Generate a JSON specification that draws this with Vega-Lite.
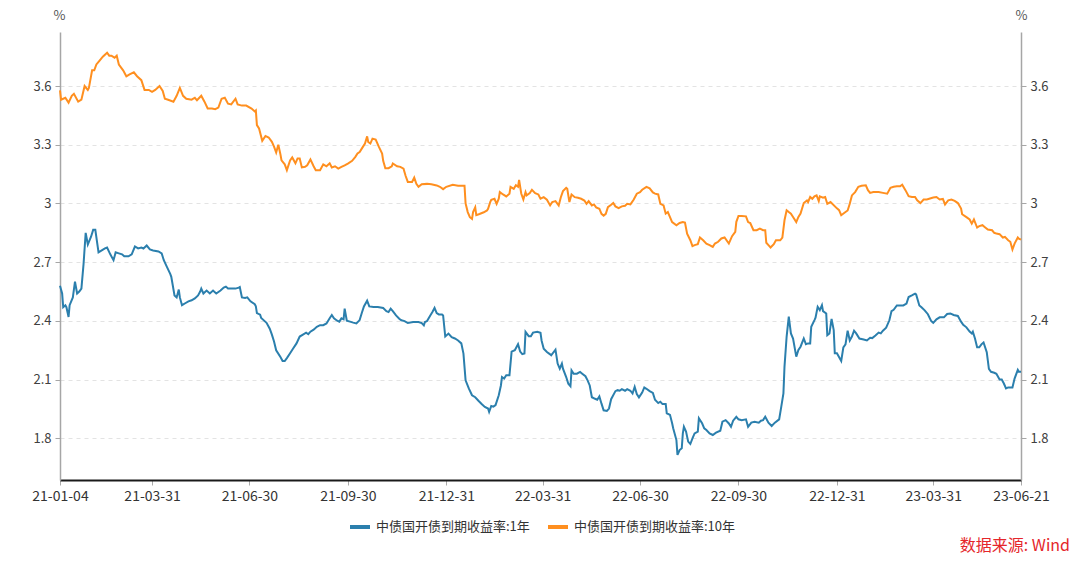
{
  "$schema": "https://vega.github.io/schema/vega-lite/v6.json",
  "autosize": "none",
  "width": 961,
  "height": 448,
  "padding": {"left": 60, "top": 32, "right": 59, "bottom": 83},
  "background": "white",
  "title": {
    "text": "数据来源: Wind",
    "orient": "bottom",
    "anchor": "end",
    "frame": "group",
    "dx": 49,
    "offset": 3,
    "color": "#e5262b",
    "fontSize": 16,
    "fontWeight": "normal",
    "font": "Noto Sans CJK SC"
  },
  "config": {
    "view": {"stroke": null},
    "font": "Noto Sans CJK SC",
    "axis": {"labelFont": "Noto Sans CJK SC", "titleFont": "Noto Sans CJK SC"},
    "legend": {"labelFont": "Noto Sans CJK SC"}
  },
  "data": {
    "values": [
      {"d":"2021-01-04","s":"1年","v":2.58},{"d":"2021-01-06","s":"1年","v":2.54},{"d":"2021-01-07","s":"1年","v":2.47},{"d":"2021-01-09","s":"1年","v":2.48},{"d":"2021-01-10","s":"1年","v":2.47},{"d":"2021-01-12","s":"1年","v":2.42},{"d":"2021-01-13","s":"1年","v":2.48},{"d":"2021-01-16","s":"1年","v":2.52},{"d":"2021-01-18","s":"1年","v":2.60},{"d":"2021-01-20","s":"1年","v":2.54},{"d":"2021-01-22","s":"1年","v":2.55},{"d":"2021-01-24","s":"1年","v":2.565},{"d":"2021-01-26","s":"1年","v":2.69},{"d":"2021-01-28","s":"1年","v":2.85},{"d":"2021-01-30","s":"1年","v":2.79},{"d":"2021-02-02","s":"1年","v":2.83},{"d":"2021-02-04","s":"1年","v":2.865},{"d":"2021-02-06","s":"1年","v":2.865},{"d":"2021-02-09","s":"1年","v":2.75},{"d":"2021-02-12","s":"1年","v":2.76},{"d":"2021-02-15","s":"1年","v":2.77},{"d":"2021-02-17","s":"1年","v":2.775},{"d":"2021-02-20","s":"1年","v":2.74},{"d":"2021-02-23","s":"1年","v":2.71},{"d":"2021-02-25","s":"1年","v":2.75},{"d":"2021-02-28","s":"1年","v":2.745},{"d":"2021-03-03","s":"1年","v":2.74},{"d":"2021-03-05","s":"1年","v":2.73},{"d":"2021-03-09","s":"1年","v":2.73},{"d":"2021-03-12","s":"1年","v":2.74},{"d":"2021-03-15","s":"1年","v":2.78},{"d":"2021-03-18","s":"1年","v":2.77},{"d":"2021-03-21","s":"1年","v":2.775},{"d":"2021-03-23","s":"1年","v":2.77},{"d":"2021-03-26","s":"1年","v":2.785},{"d":"2021-03-29","s":"1年","v":2.765},{"d":"2021-04-01","s":"1年","v":2.76},{"d":"2021-04-06","s":"1年","v":2.755},{"d":"2021-04-09","s":"1年","v":2.745},{"d":"2021-04-11","s":"1年","v":2.71},{"d":"2021-04-14","s":"1年","v":2.675},{"d":"2021-04-17","s":"1年","v":2.64},{"d":"2021-04-18","s":"1年","v":2.625},{"d":"2021-04-21","s":"1年","v":2.53},{"d":"2021-04-23","s":"1年","v":2.52},{"d":"2021-04-25","s":"1年","v":2.56},{"d":"2021-04-26","s":"1年","v":2.52},{"d":"2021-04-28","s":"1年","v":2.48},{"d":"2021-05-01","s":"1年","v":2.49},{"d":"2021-05-04","s":"1年","v":2.50},{"d":"2021-05-07","s":"1年","v":2.505},{"d":"2021-05-10","s":"1年","v":2.515},{"d":"2021-05-13","s":"1年","v":2.53},{"d":"2021-05-15","s":"1年","v":2.55},{"d":"2021-05-16","s":"1年","v":2.565},{"d":"2021-05-18","s":"1年","v":2.54},{"d":"2021-05-21","s":"1年","v":2.555},{"d":"2021-05-24","s":"1年","v":2.54},{"d":"2021-05-27","s":"1年","v":2.555},{"d":"2021-05-30","s":"1年","v":2.54},{"d":"2021-06-03","s":"1年","v":2.555},{"d":"2021-06-06","s":"1年","v":2.57},{"d":"2021-06-08","s":"1年","v":2.575},{"d":"2021-06-10","s":"1年","v":2.565},{"d":"2021-06-13","s":"1年","v":2.565},{"d":"2021-06-17","s":"1年","v":2.565},{"d":"2021-06-20","s":"1年","v":2.57},{"d":"2021-06-21","s":"1年","v":2.573},{"d":"2021-06-23","s":"1年","v":2.52},{"d":"2021-06-26","s":"1年","v":2.517},{"d":"2021-06-28","s":"1年","v":2.52},{"d":"2021-07-01","s":"1年","v":2.50},{"d":"2021-07-05","s":"1年","v":2.485},{"d":"2021-07-06","s":"1年","v":2.475},{"d":"2021-07-07","s":"1年","v":2.44},{"d":"2021-07-10","s":"1年","v":2.432},{"d":"2021-07-11","s":"1年","v":2.415},{"d":"2021-07-14","s":"1年","v":2.40},{"d":"2021-07-16","s":"1年","v":2.39},{"d":"2021-07-19","s":"1年","v":2.36},{"d":"2021-07-21","s":"1年","v":2.33},{"d":"2021-07-23","s":"1年","v":2.295},{"d":"2021-07-25","s":"1年","v":2.25},{"d":"2021-07-29","s":"1年","v":2.215},{"d":"2021-07-31","s":"1年","v":2.195},{"d":"2021-08-02","s":"1年","v":2.195},{"d":"2021-08-04","s":"1年","v":2.21},{"d":"2021-08-07","s":"1年","v":2.235},{"d":"2021-08-10","s":"1年","v":2.26},{"d":"2021-08-13","s":"1年","v":2.285},{"d":"2021-08-16","s":"1年","v":2.32},{"d":"2021-08-19","s":"1年","v":2.33},{"d":"2021-08-22","s":"1年","v":2.34},{"d":"2021-08-24","s":"1年","v":2.332},{"d":"2021-08-26","s":"1年","v":2.345},{"d":"2021-08-29","s":"1年","v":2.355},{"d":"2021-09-01","s":"1年","v":2.37},{"d":"2021-09-04","s":"1年","v":2.378},{"d":"2021-09-07","s":"1年","v":2.378},{"d":"2021-09-10","s":"1年","v":2.387},{"d":"2021-09-13","s":"1年","v":2.413},{"d":"2021-09-15","s":"1年","v":2.43},{"d":"2021-09-17","s":"1年","v":2.413},{"d":"2021-09-20","s":"1年","v":2.401},{"d":"2021-09-22","s":"1年","v":2.396},{"d":"2021-09-24","s":"1年","v":2.413},{"d":"2021-09-26","s":"1年","v":2.408},{"d":"2021-09-27","s":"1年","v":2.463},{"d":"2021-09-29","s":"1年","v":2.401},{"d":"2021-10-02","s":"1年","v":2.396},{"d":"2021-10-05","s":"1年","v":2.391},{"d":"2021-10-08","s":"1年","v":2.387},{"d":"2021-10-11","s":"1年","v":2.404},{"d":"2021-10-13","s":"1年","v":2.44},{"d":"2021-10-15","s":"1年","v":2.474},{"d":"2021-10-18","s":"1年","v":2.503},{"d":"2021-10-20","s":"1年","v":2.474},{"d":"2021-10-24","s":"1年","v":2.471},{"d":"2021-10-28","s":"1年","v":2.471},{"d":"2021-11-02","s":"1年","v":2.466},{"d":"2021-11-05","s":"1年","v":2.45},{"d":"2021-11-07","s":"1年","v":2.445},{"d":"2021-11-09","s":"1年","v":2.462},{"d":"2021-11-11","s":"1年","v":2.45},{"d":"2021-11-14","s":"1年","v":2.428},{"d":"2021-11-17","s":"1年","v":2.411},{"d":"2021-11-19","s":"1年","v":2.403},{"d":"2021-11-22","s":"1年","v":2.399},{"d":"2021-11-25","s":"1年","v":2.389},{"d":"2021-11-30","s":"1年","v":2.394},{"d":"2021-12-05","s":"1年","v":2.394},{"d":"2021-12-08","s":"1年","v":2.389},{"d":"2021-12-10","s":"1年","v":2.377},{"d":"2021-12-11","s":"1年","v":2.394},{"d":"2021-12-13","s":"1年","v":2.399},{"d":"2021-12-16","s":"1年","v":2.428},{"d":"2021-12-18","s":"1年","v":2.445},{"d":"2021-12-20","s":"1年","v":2.466},{"d":"2021-12-22","s":"1年","v":2.44},{"d":"2021-12-24","s":"1年","v":2.433},{"d":"2021-12-27","s":"1年","v":2.433},{"d":"2021-12-28","s":"1年","v":2.428},{"d":"2021-12-30","s":"1年","v":2.32},{"d":"2022-01-02","s":"1年","v":2.335},{"d":"2022-01-05","s":"1年","v":2.317},{"d":"2022-01-08","s":"1年","v":2.31},{"d":"2022-01-11","s":"1年","v":2.30},{"d":"2022-01-14","s":"1年","v":2.285},{"d":"2022-01-16","s":"1年","v":2.233},{"d":"2022-01-18","s":"1年","v":2.096},{"d":"2022-01-21","s":"1年","v":2.055},{"d":"2022-01-24","s":"1年","v":2.02},{"d":"2022-01-27","s":"1年","v":2.01},{"d":"2022-01-30","s":"1年","v":1.992},{"d":"2022-02-02","s":"1年","v":1.975},{"d":"2022-02-05","s":"1年","v":1.96},{"d":"2022-02-08","s":"1年","v":1.952},{"d":"2022-02-09","s":"1年","v":1.935},{"d":"2022-02-11","s":"1年","v":1.965},{"d":"2022-02-13","s":"1年","v":1.962},{"d":"2022-02-15","s":"1年","v":1.97},{"d":"2022-02-18","s":"1年","v":2.02},{"d":"2022-02-20","s":"1年","v":2.07},{"d":"2022-02-21","s":"1年","v":2.113},{"d":"2022-02-23","s":"1年","v":2.105},{"d":"2022-02-25","s":"1年","v":2.122},{"d":"2022-02-28","s":"1年","v":2.122},{"d":"2022-03-02","s":"1年","v":2.243},{"d":"2022-03-05","s":"1年","v":2.25},{"d":"2022-03-08","s":"1年","v":2.281},{"d":"2022-03-10","s":"1年","v":2.243},{"d":"2022-03-12","s":"1年","v":2.23},{"d":"2022-03-14","s":"1年","v":2.233},{"d":"2022-03-15","s":"1年","v":2.344},{"d":"2022-03-18","s":"1年","v":2.322},{"d":"2022-03-20","s":"1年","v":2.322},{"d":"2022-03-22","s":"1年","v":2.34},{"d":"2022-03-26","s":"1年","v":2.344},{"d":"2022-03-29","s":"1年","v":2.339},{"d":"2022-03-30","s":"1年","v":2.30},{"d":"2022-04-01","s":"1年","v":2.258},{"d":"2022-04-04","s":"1年","v":2.241},{"d":"2022-04-07","s":"1年","v":2.229},{"d":"2022-04-08","s":"1年","v":2.224},{"d":"2022-04-12","s":"1年","v":2.253},{"d":"2022-04-14","s":"1年","v":2.182},{"d":"2022-04-16","s":"1年","v":2.156},{"d":"2022-04-18","s":"1年","v":2.182},{"d":"2022-04-19","s":"1年","v":2.156},{"d":"2022-04-22","s":"1年","v":2.113},{"d":"2022-04-24","s":"1年","v":2.079},{"d":"2022-04-26","s":"1年","v":2.066},{"d":"2022-04-27","s":"1年","v":2.147},{"d":"2022-04-29","s":"1年","v":2.13},{"d":"2022-05-02","s":"1年","v":2.13},{"d":"2022-05-05","s":"1年","v":2.139},{"d":"2022-05-07","s":"1年","v":2.13},{"d":"2022-05-10","s":"1年","v":2.117},{"d":"2022-05-12","s":"1年","v":2.096},{"d":"2022-05-14","s":"1年","v":2.07},{"d":"2022-05-16","s":"1年","v":2.01},{"d":"2022-05-19","s":"1年","v":2.002},{"d":"2022-05-21","s":"1年","v":1.997},{"d":"2022-05-23","s":"1年","v":2.014},{"d":"2022-05-25","s":"1年","v":1.977},{"d":"2022-05-27","s":"1年","v":1.943},{"d":"2022-05-30","s":"1年","v":1.94},{"d":"2022-06-01","s":"1年","v":1.952},{"d":"2022-06-03","s":"1年","v":2.0},{"d":"2022-06-07","s":"1年","v":2.041},{"d":"2022-06-09","s":"1年","v":2.046},{"d":"2022-06-11","s":"1年","v":2.043},{"d":"2022-06-13","s":"1年","v":2.051},{"d":"2022-06-16","s":"1年","v":2.043},{"d":"2022-06-18","s":"1年","v":2.051},{"d":"2022-06-21","s":"1年","v":2.043},{"d":"2022-06-23","s":"1年","v":2.029},{"d":"2022-06-25","s":"1年","v":2.063},{"d":"2022-06-27","s":"1年","v":2.026},{"d":"2022-06-29","s":"1年","v":2.009},{"d":"2022-07-02","s":"1年","v":2.034},{"d":"2022-07-04","s":"1年","v":2.06},{"d":"2022-07-06","s":"1年","v":2.053},{"d":"2022-07-09","s":"1年","v":2.041},{"d":"2022-07-12","s":"1年","v":2.032},{"d":"2022-07-14","s":"1年","v":1.997},{"d":"2022-07-17","s":"1年","v":1.98},{"d":"2022-07-19","s":"1年","v":1.987},{"d":"2022-07-21","s":"1年","v":1.975},{"d":"2022-07-24","s":"1年","v":1.975},{"d":"2022-07-25","s":"1年","v":1.928},{"d":"2022-07-28","s":"1年","v":1.92},{"d":"2022-07-30","s":"1年","v":1.877},{"d":"2022-07-31","s":"1年","v":1.851},{"d":"2022-08-03","s":"1年","v":1.791},{"d":"2022-08-04","s":"1年","v":1.715},{"d":"2022-08-06","s":"1年","v":1.74},{"d":"2022-08-08","s":"1年","v":1.749},{"d":"2022-08-09","s":"1年","v":1.825},{"d":"2022-08-10","s":"1年","v":1.859},{"d":"2022-08-12","s":"1年","v":1.834},{"d":"2022-08-14","s":"1年","v":1.783},{"d":"2022-08-16","s":"1年","v":1.771},{"d":"2022-08-18","s":"1年","v":1.80},{"d":"2022-08-20","s":"1年","v":1.825},{"d":"2022-08-23","s":"1年","v":1.834},{"d":"2022-08-24","s":"1年","v":1.902},{"d":"2022-08-27","s":"1年","v":1.877},{"d":"2022-08-29","s":"1年","v":1.851},{"d":"2022-08-31","s":"1年","v":1.842},{"d":"2022-09-03","s":"1年","v":1.825},{"d":"2022-09-06","s":"1年","v":1.817},{"d":"2022-09-09","s":"1年","v":1.829},{"d":"2022-09-13","s":"1年","v":1.839},{"d":"2022-09-15","s":"1年","v":1.885},{"d":"2022-09-18","s":"1年","v":1.893},{"d":"2022-09-21","s":"1年","v":1.876},{"d":"2022-09-23","s":"1年","v":1.859},{"d":"2022-09-25","s":"1年","v":1.89},{"d":"2022-09-28","s":"1年","v":1.91},{"d":"2022-09-30","s":"1年","v":1.897},{"d":"2022-10-03","s":"1年","v":1.893},{"d":"2022-10-07","s":"1年","v":1.897},{"d":"2022-10-09","s":"1年","v":1.859},{"d":"2022-10-12","s":"1年","v":1.88},{"d":"2022-10-15","s":"1年","v":1.885},{"d":"2022-10-19","s":"1年","v":1.88},{"d":"2022-10-21","s":"1年","v":1.89},{"d":"2022-10-23","s":"1年","v":1.893},{"d":"2022-10-25","s":"1年","v":1.91},{"d":"2022-10-28","s":"1年","v":1.88},{"d":"2022-10-31","s":"1年","v":1.863},{"d":"2022-11-03","s":"1年","v":1.88},{"d":"2022-11-07","s":"1年","v":1.897},{"d":"2022-11-09","s":"1年","v":1.962},{"d":"2022-11-11","s":"1年","v":2.03},{"d":"2022-11-12","s":"1年","v":2.166},{"d":"2022-11-14","s":"1年","v":2.32},{"d":"2022-11-16","s":"1年","v":2.422},{"d":"2022-11-18","s":"1年","v":2.336},{"d":"2022-11-20","s":"1年","v":2.31},{"d":"2022-11-23","s":"1年","v":2.217},{"d":"2022-11-25","s":"1年","v":2.251},{"d":"2022-11-27","s":"1年","v":2.268},{"d":"2022-11-30","s":"1年","v":2.31},{"d":"2022-12-02","s":"1年","v":2.281},{"d":"2022-12-04","s":"1年","v":2.285},{"d":"2022-12-06","s":"1年","v":2.285},{"d":"2022-12-07","s":"1年","v":2.37},{"d":"2022-12-10","s":"1年","v":2.404},{"d":"2022-12-11","s":"1年","v":2.416},{"d":"2022-12-13","s":"1年","v":2.472},{"d":"2022-12-15","s":"1年","v":2.455},{"d":"2022-12-17","s":"1年","v":2.48},{"d":"2022-12-18","s":"1年","v":2.45},{"d":"2022-12-21","s":"1年","v":2.438},{"d":"2022-12-22","s":"1年","v":2.327},{"d":"2022-12-24","s":"1年","v":2.336},{"d":"2022-12-26","s":"1年","v":2.41},{"d":"2022-12-28","s":"1年","v":2.353},{"d":"2022-12-29","s":"1年","v":2.234},{"d":"2022-12-31","s":"1年","v":2.234},{"d":"2023-01-04","s":"1年","v":2.195},{"d":"2023-01-06","s":"1年","v":2.265},{"d":"2023-01-08","s":"1年","v":2.28},{"d":"2023-01-10","s":"1年","v":2.35},{"d":"2023-01-12","s":"1年","v":2.30},{"d":"2023-01-14","s":"1年","v":2.32},{"d":"2023-01-16","s":"1年","v":2.35},{"d":"2023-01-18","s":"1年","v":2.336},{"d":"2023-01-21","s":"1年","v":2.31},{"d":"2023-01-25","s":"1年","v":2.305},{"d":"2023-01-28","s":"1年","v":2.30},{"d":"2023-01-31","s":"1年","v":2.314},{"d":"2023-02-02","s":"1年","v":2.312},{"d":"2023-02-05","s":"1年","v":2.325},{"d":"2023-02-08","s":"1年","v":2.34},{"d":"2023-02-10","s":"1年","v":2.336},{"d":"2023-02-12","s":"1年","v":2.35},{"d":"2023-02-15","s":"1年","v":2.365},{"d":"2023-02-18","s":"1年","v":2.403},{"d":"2023-02-20","s":"1年","v":2.45},{"d":"2023-02-22","s":"1年","v":2.457},{"d":"2023-02-25","s":"1年","v":2.479},{"d":"2023-02-28","s":"1年","v":2.479},{"d":"2023-03-03","s":"1年","v":2.479},{"d":"2023-03-06","s":"1年","v":2.488},{"d":"2023-03-08","s":"1年","v":2.522},{"d":"2023-03-11","s":"1年","v":2.53},{"d":"2023-03-14","s":"1年","v":2.539},{"d":"2023-03-15","s":"1年","v":2.535},{"d":"2023-03-18","s":"1年","v":2.479},{"d":"2023-03-20","s":"1年","v":2.47},{"d":"2023-03-23","s":"1年","v":2.454},{"d":"2023-03-26","s":"1年","v":2.434},{"d":"2023-03-29","s":"1年","v":2.40},{"d":"2023-03-31","s":"1年","v":2.39},{"d":"2023-04-03","s":"1年","v":2.408},{"d":"2023-04-06","s":"1年","v":2.418},{"d":"2023-04-10","s":"1年","v":2.418},{"d":"2023-04-13","s":"1年","v":2.435},{"d":"2023-04-16","s":"1年","v":2.438},{"d":"2023-04-19","s":"1年","v":2.43},{"d":"2023-04-23","s":"1年","v":2.425},{"d":"2023-04-26","s":"1年","v":2.396},{"d":"2023-04-28","s":"1年","v":2.38},{"d":"2023-05-01","s":"1年","v":2.367},{"d":"2023-05-04","s":"1年","v":2.345},{"d":"2023-05-06","s":"1年","v":2.336},{"d":"2023-05-07","s":"1年","v":2.345},{"d":"2023-05-09","s":"1年","v":2.31},{"d":"2023-05-11","s":"1年","v":2.265},{"d":"2023-05-13","s":"1年","v":2.265},{"d":"2023-05-15","s":"1年","v":2.28},{"d":"2023-05-17","s":"1年","v":2.29},{"d":"2023-05-20","s":"1年","v":2.24},{"d":"2023-05-22","s":"1年","v":2.155},{"d":"2023-05-24","s":"1年","v":2.14},{"d":"2023-05-27","s":"1年","v":2.135},{"d":"2023-05-29","s":"1年","v":2.13},{"d":"2023-06-01","s":"1年","v":2.10},{"d":"2023-06-03","s":"1年","v":2.10},{"d":"2023-06-05","s":"1年","v":2.08},{"d":"2023-06-07","s":"1年","v":2.055},{"d":"2023-06-09","s":"1年","v":2.06},{"d":"2023-06-13","s":"1年","v":2.06},{"d":"2023-06-15","s":"1年","v":2.105},{"d":"2023-06-18","s":"1年","v":2.15},{"d":"2023-06-19","s":"1年","v":2.14},{"d":"2023-06-21","s":"1年","v":2.14},
      {"d":"2021-01-04","s":"10年","v":3.578},{"d":"2021-01-05","s":"10年","v":3.53},{"d":"2021-01-09","s":"10年","v":3.54},{"d":"2021-01-12","s":"10年","v":3.515},{"d":"2021-01-15","s":"10年","v":3.55},{"d":"2021-01-17","s":"10年","v":3.56},{"d":"2021-01-21","s":"10年","v":3.52},{"d":"2021-01-24","s":"10年","v":3.53},{"d":"2021-01-27","s":"10年","v":3.60},{"d":"2021-01-30","s":"10年","v":3.58},{"d":"2021-01-31","s":"10年","v":3.59},{"d":"2021-02-03","s":"10年","v":3.68},{"d":"2021-02-05","s":"10年","v":3.68},{"d":"2021-02-07","s":"10年","v":3.71},{"d":"2021-02-10","s":"10年","v":3.73},{"d":"2021-02-13","s":"10年","v":3.75},{"d":"2021-02-17","s":"10年","v":3.77},{"d":"2021-02-19","s":"10年","v":3.755},{"d":"2021-02-21","s":"10年","v":3.755},{"d":"2021-02-24","s":"10年","v":3.745},{"d":"2021-02-26","s":"10年","v":3.755},{"d":"2021-02-28","s":"10年","v":3.71},{"d":"2021-03-04","s":"10年","v":3.68},{"d":"2021-03-07","s":"10年","v":3.65},{"d":"2021-03-10","s":"10年","v":3.66},{"d":"2021-03-14","s":"10年","v":3.67},{"d":"2021-03-17","s":"10年","v":3.65},{"d":"2021-03-21","s":"10年","v":3.63},{"d":"2021-03-24","s":"10年","v":3.58},{"d":"2021-03-28","s":"10年","v":3.58},{"d":"2021-03-31","s":"10年","v":3.57},{"d":"2021-04-03","s":"10年","v":3.58},{"d":"2021-04-07","s":"10年","v":3.60},{"d":"2021-04-10","s":"10年","v":3.575},{"d":"2021-04-12","s":"10年","v":3.535},{"d":"2021-04-15","s":"10年","v":3.53},{"d":"2021-04-20","s":"10年","v":3.52},{"d":"2021-04-23","s":"10年","v":3.55},{"d":"2021-04-26","s":"10年","v":3.59},{"d":"2021-04-29","s":"10年","v":3.55},{"d":"2021-05-02","s":"10年","v":3.535},{"d":"2021-05-07","s":"10年","v":3.53},{"d":"2021-05-10","s":"10年","v":3.54},{"d":"2021-05-12","s":"10年","v":3.527},{"d":"2021-05-16","s":"10年","v":3.55},{"d":"2021-05-19","s":"10年","v":3.52},{"d":"2021-05-22","s":"10年","v":3.485},{"d":"2021-05-26","s":"10年","v":3.485},{"d":"2021-05-29","s":"10年","v":3.482},{"d":"2021-06-01","s":"10年","v":3.49},{"d":"2021-06-04","s":"10年","v":3.535},{"d":"2021-06-07","s":"10年","v":3.54},{"d":"2021-06-10","s":"10年","v":3.51},{"d":"2021-06-13","s":"10年","v":3.506},{"d":"2021-06-17","s":"10年","v":3.535},{"d":"2021-06-19","s":"10年","v":3.506},{"d":"2021-06-23","s":"10年","v":3.50},{"d":"2021-06-27","s":"10年","v":3.50},{"d":"2021-07-02","s":"10年","v":3.485},{"d":"2021-07-05","s":"10年","v":3.47},{"d":"2021-07-06","s":"10年","v":3.475},{"d":"2021-07-07","s":"10年","v":3.40},{"d":"2021-07-09","s":"10年","v":3.383},{"d":"2021-07-12","s":"10年","v":3.32},{"d":"2021-07-15","s":"10年","v":3.345},{"d":"2021-07-18","s":"10年","v":3.337},{"d":"2021-07-21","s":"10年","v":3.315},{"d":"2021-07-23","s":"10年","v":3.29},{"d":"2021-07-25","s":"10年","v":3.26},{"d":"2021-07-27","s":"10年","v":3.30},{"d":"2021-07-29","s":"10年","v":3.25},{"d":"2021-07-30","s":"10年","v":3.22},{"d":"2021-08-02","s":"10年","v":3.20},{"d":"2021-08-04","s":"10年","v":3.17},{"d":"2021-08-07","s":"10年","v":3.22},{"d":"2021-08-09","s":"10年","v":3.235},{"d":"2021-08-12","s":"10年","v":3.205},{"d":"2021-08-14","s":"10年","v":3.23},{"d":"2021-08-16","s":"10年","v":3.23},{"d":"2021-08-18","s":"10年","v":3.184},{"d":"2021-08-21","s":"10年","v":3.187},{"d":"2021-08-23","s":"10年","v":3.195},{"d":"2021-08-26","s":"10年","v":3.225},{"d":"2021-08-29","s":"10年","v":3.19},{"d":"2021-08-31","s":"10年","v":3.17},{"d":"2021-09-04","s":"10年","v":3.17},{"d":"2021-09-07","s":"10年","v":3.20},{"d":"2021-09-10","s":"10年","v":3.19},{"d":"2021-09-13","s":"10年","v":3.205},{"d":"2021-09-15","s":"10年","v":3.184},{"d":"2021-09-18","s":"10年","v":3.19},{"d":"2021-09-21","s":"10年","v":3.178},{"d":"2021-09-24","s":"10年","v":3.187},{"d":"2021-09-27","s":"10年","v":3.195},{"d":"2021-09-30","s":"10年","v":3.204},{"d":"2021-10-04","s":"10年","v":3.218},{"d":"2021-10-07","s":"10年","v":3.238},{"d":"2021-10-09","s":"10年","v":3.255},{"d":"2021-10-11","s":"10年","v":3.263},{"d":"2021-10-14","s":"10年","v":3.289},{"d":"2021-10-16","s":"10年","v":3.306},{"d":"2021-10-18","s":"10年","v":3.343},{"d":"2021-10-19","s":"10年","v":3.314},{"d":"2021-10-21","s":"10年","v":3.306},{"d":"2021-10-23","s":"10年","v":3.331},{"d":"2021-10-26","s":"10年","v":3.326},{"d":"2021-10-29","s":"10年","v":3.289},{"d":"2021-11-01","s":"10年","v":3.255},{"d":"2021-11-02","s":"10年","v":3.218},{"d":"2021-11-04","s":"10年","v":3.18},{"d":"2021-11-07","s":"10年","v":3.18},{"d":"2021-11-10","s":"10年","v":3.19},{"d":"2021-11-11","s":"10年","v":3.204},{"d":"2021-11-15","s":"10年","v":3.19},{"d":"2021-11-18","s":"10年","v":3.187},{"d":"2021-11-21","s":"10年","v":3.178},{"d":"2021-11-23","s":"10年","v":3.14},{"d":"2021-11-25","s":"10年","v":3.11},{"d":"2021-11-29","s":"10年","v":3.11},{"d":"2021-12-01","s":"10年","v":3.132},{"d":"2021-12-03","s":"10年","v":3.10},{"d":"2021-12-05","s":"10年","v":3.085},{"d":"2021-12-08","s":"10年","v":3.098},{"d":"2021-12-13","s":"10年","v":3.10},{"d":"2021-12-17","s":"10年","v":3.098},{"d":"2021-12-22","s":"10年","v":3.092},{"d":"2021-12-25","s":"10年","v":3.085},{"d":"2021-12-28","s":"10年","v":3.073},{"d":"2021-12-31","s":"10年","v":3.085},{"d":"2022-01-06","s":"10年","v":3.095},{"d":"2022-01-11","s":"10年","v":3.091},{"d":"2022-01-17","s":"10年","v":3.09},{"d":"2022-01-18","s":"10年","v":3.00},{"d":"2022-01-20","s":"10年","v":2.956},{"d":"2022-01-22","s":"10年","v":2.93},{"d":"2022-01-24","s":"10年","v":2.921},{"d":"2022-01-25","s":"10年","v":2.956},{"d":"2022-01-27","s":"10年","v":2.98},{"d":"2022-01-28","s":"10年","v":2.94},{"d":"2022-01-31","s":"10年","v":2.946},{"d":"2022-02-04","s":"10年","v":2.955},{"d":"2022-02-07","s":"10年","v":2.964},{"d":"2022-02-08","s":"10年","v":2.973},{"d":"2022-02-10","s":"10年","v":3.007},{"d":"2022-02-11","s":"10年","v":3.019},{"d":"2022-02-14","s":"10年","v":3.024},{"d":"2022-02-16","s":"10年","v":2.998},{"d":"2022-02-18","s":"10年","v":3.024},{"d":"2022-02-19","s":"10年","v":3.058},{"d":"2022-02-22","s":"10年","v":3.046},{"d":"2022-02-25","s":"10年","v":3.036},{"d":"2022-02-28","s":"10年","v":3.05},{"d":"2022-03-01","s":"10年","v":3.085},{"d":"2022-03-04","s":"10年","v":3.075},{"d":"2022-03-06","s":"10年","v":3.093},{"d":"2022-03-08","s":"10年","v":3.085},{"d":"2022-03-09","s":"10年","v":3.12},{"d":"2022-03-11","s":"10年","v":3.051},{"d":"2022-03-13","s":"10年","v":3.02},{"d":"2022-03-15","s":"10年","v":3.058},{"d":"2022-03-16","s":"10年","v":3.041},{"d":"2022-03-19","s":"10年","v":3.053},{"d":"2022-03-21","s":"10年","v":3.07},{"d":"2022-03-24","s":"10年","v":3.053},{"d":"2022-03-27","s":"10年","v":3.046},{"d":"2022-03-29","s":"10年","v":3.024},{"d":"2022-04-01","s":"10年","v":3.032},{"d":"2022-04-04","s":"10年","v":3.019},{"d":"2022-04-07","s":"10年","v":2.99},{"d":"2022-04-09","s":"10年","v":3.007},{"d":"2022-04-12","s":"10年","v":3.012},{"d":"2022-04-15","s":"10年","v":2.99},{"d":"2022-04-17","s":"10年","v":3.032},{"d":"2022-04-19","s":"10年","v":3.063},{"d":"2022-04-22","s":"10年","v":3.08},{"d":"2022-04-23","s":"10年","v":3.075},{"d":"2022-04-25","s":"10年","v":3.007},{"d":"2022-04-27","s":"10年","v":3.046},{"d":"2022-04-30","s":"10年","v":3.032},{"d":"2022-05-03","s":"10年","v":3.029},{"d":"2022-05-06","s":"10年","v":3.024},{"d":"2022-05-09","s":"10年","v":3.015},{"d":"2022-05-11","s":"10年","v":2.998},{"d":"2022-05-13","s":"10年","v":3.012},{"d":"2022-05-16","s":"10年","v":2.99},{"d":"2022-05-18","s":"10年","v":2.995},{"d":"2022-05-20","s":"10年","v":2.98},{"d":"2022-05-23","s":"10年","v":2.973},{"d":"2022-05-25","s":"10年","v":2.947},{"d":"2022-05-27","s":"10年","v":2.938},{"d":"2022-05-29","s":"10年","v":2.947},{"d":"2022-05-31","s":"10年","v":2.981},{"d":"2022-06-03","s":"10年","v":2.993},{"d":"2022-06-05","s":"10年","v":3.002},{"d":"2022-06-07","s":"10年","v":2.985},{"d":"2022-06-10","s":"10年","v":2.976},{"d":"2022-06-13","s":"10年","v":2.985},{"d":"2022-06-16","s":"10年","v":2.988},{"d":"2022-06-18","s":"10年","v":2.998},{"d":"2022-06-21","s":"10年","v":2.995},{"d":"2022-06-24","s":"10年","v":3.019},{"d":"2022-06-27","s":"10年","v":3.05},{"d":"2022-06-30","s":"10年","v":3.058},{"d":"2022-07-02","s":"10年","v":3.07},{"d":"2022-07-06","s":"10年","v":3.085},{"d":"2022-07-09","s":"10年","v":3.077},{"d":"2022-07-12","s":"10年","v":3.056},{"d":"2022-07-14","s":"10年","v":3.05},{"d":"2022-07-17","s":"10年","v":3.046},{"d":"2022-07-19","s":"10年","v":2.998},{"d":"2022-07-22","s":"10年","v":2.99},{"d":"2022-07-24","s":"10年","v":2.948},{"d":"2022-07-26","s":"10年","v":2.956},{"d":"2022-07-28","s":"10年","v":2.93},{"d":"2022-07-30","s":"10年","v":2.905},{"d":"2022-08-03","s":"10年","v":2.888},{"d":"2022-08-06","s":"10年","v":2.90},{"d":"2022-08-09","s":"10年","v":2.905},{"d":"2022-08-11","s":"10年","v":2.902},{"d":"2022-08-13","s":"10年","v":2.846},{"d":"2022-08-16","s":"10年","v":2.812},{"d":"2022-08-18","s":"10年","v":2.782},{"d":"2022-08-20","s":"10年","v":2.787},{"d":"2022-08-23","s":"10年","v":2.792},{"d":"2022-08-25","s":"10年","v":2.826},{"d":"2022-08-28","s":"10年","v":2.812},{"d":"2022-08-31","s":"10年","v":2.795},{"d":"2022-09-03","s":"10年","v":2.787},{"d":"2022-09-06","s":"10年","v":2.778},{"d":"2022-09-08","s":"10年","v":2.795},{"d":"2022-09-11","s":"10年","v":2.804},{"d":"2022-09-14","s":"10年","v":2.821},{"d":"2022-09-17","s":"10年","v":2.826},{"d":"2022-09-21","s":"10年","v":2.795},{"d":"2022-09-24","s":"10年","v":2.833},{"d":"2022-09-27","s":"10年","v":2.855},{"d":"2022-09-28","s":"10年","v":2.906},{"d":"2022-09-30","s":"10年","v":2.936},{"d":"2022-10-03","s":"10年","v":2.936},{"d":"2022-10-07","s":"10年","v":2.934},{"d":"2022-10-09","s":"10年","v":2.905},{"d":"2022-10-11","s":"10年","v":2.90},{"d":"2022-10-14","s":"10年","v":2.863},{"d":"2022-10-17","s":"10年","v":2.863},{"d":"2022-10-20","s":"10年","v":2.871},{"d":"2022-10-23","s":"10年","v":2.863},{"d":"2022-10-25","s":"10年","v":2.863},{"d":"2022-10-26","s":"10年","v":2.799},{"d":"2022-10-28","s":"10年","v":2.787},{"d":"2022-10-30","s":"10年","v":2.775},{"d":"2022-11-02","s":"10年","v":2.792},{"d":"2022-11-04","s":"10年","v":2.812},{"d":"2022-11-08","s":"10年","v":2.812},{"d":"2022-11-10","s":"10年","v":2.826},{"d":"2022-11-12","s":"10年","v":2.914},{"d":"2022-11-14","s":"10年","v":2.965},{"d":"2022-11-16","s":"10年","v":2.956},{"d":"2022-11-18","s":"10年","v":2.948},{"d":"2022-11-20","s":"10年","v":2.931},{"d":"2022-11-23","s":"10年","v":2.905},{"d":"2022-11-25","s":"10年","v":2.931},{"d":"2022-11-27","s":"10年","v":2.948},{"d":"2022-11-30","s":"10年","v":3.002},{"d":"2022-12-03","s":"10年","v":3.015},{"d":"2022-12-04","s":"10年","v":3.007},{"d":"2022-12-06","s":"10年","v":3.033},{"d":"2022-12-08","s":"10年","v":3.024},{"d":"2022-12-10","s":"10年","v":3.036},{"d":"2022-12-12","s":"10年","v":3.041},{"d":"2022-12-14","s":"10年","v":3.012},{"d":"2022-12-15","s":"10年","v":3.036},{"d":"2022-12-18","s":"10年","v":3.029},{"d":"2022-12-20","s":"10年","v":3.033},{"d":"2022-12-22","s":"10年","v":2.998},{"d":"2022-12-25","s":"10年","v":3.007},{"d":"2022-12-31","s":"10年","v":2.975},{"d":"2023-01-02","s":"10年","v":2.966},{"d":"2023-01-04","s":"10年","v":2.94},{"d":"2023-01-08","s":"10年","v":2.956},{"d":"2023-01-10","s":"10年","v":2.964},{"d":"2023-01-12","s":"10年","v":2.998},{"d":"2023-01-14","s":"10年","v":3.041},{"d":"2023-01-17","s":"10年","v":3.058},{"d":"2023-01-20","s":"10年","v":3.085},{"d":"2023-01-23","s":"10年","v":3.09},{"d":"2023-01-27","s":"10年","v":3.093},{"d":"2023-01-29","s":"10年","v":3.068},{"d":"2023-01-31","s":"10年","v":3.054},{"d":"2023-02-03","s":"10年","v":3.058},{"d":"2023-02-08","s":"10年","v":3.058},{"d":"2023-02-12","s":"10年","v":3.054},{"d":"2023-02-16","s":"10年","v":3.05},{"d":"2023-02-19","s":"10年","v":3.08},{"d":"2023-02-22","s":"10年","v":3.085},{"d":"2023-02-25","s":"10年","v":3.088},{"d":"2023-02-28","s":"10年","v":3.088},{"d":"2023-03-02","s":"10年","v":3.096},{"d":"2023-03-05","s":"10年","v":3.068},{"d":"2023-03-08","s":"10年","v":3.037},{"d":"2023-03-11","s":"10年","v":3.033},{"d":"2023-03-14","s":"10年","v":3.033},{"d":"2023-03-16","s":"10年","v":3.016},{"d":"2023-03-19","s":"10年","v":3.002},{"d":"2023-03-22","s":"10年","v":3.02},{"d":"2023-03-25","s":"10年","v":3.02},{"d":"2023-03-28","s":"10年","v":3.025},{"d":"2023-03-31","s":"10年","v":3.03},{"d":"2023-04-03","s":"10年","v":3.033},{"d":"2023-04-06","s":"10年","v":3.02},{"d":"2023-04-09","s":"10年","v":3.023},{"d":"2023-04-11","s":"10年","v":2.995},{"d":"2023-04-14","s":"10年","v":3.016},{"d":"2023-04-17","s":"10年","v":3.02},{"d":"2023-04-20","s":"10年","v":3.013},{"d":"2023-04-23","s":"10年","v":3.002},{"d":"2023-04-26","s":"10年","v":2.974},{"d":"2023-04-27","s":"10年","v":2.945},{"d":"2023-05-01","s":"10年","v":2.93},{"d":"2023-05-04","s":"10年","v":2.918},{"d":"2023-05-06","s":"10年","v":2.897},{"d":"2023-05-08","s":"10年","v":2.918},{"d":"2023-05-11","s":"10年","v":2.877},{"d":"2023-05-13","s":"10年","v":2.884},{"d":"2023-05-16","s":"10年","v":2.889},{"d":"2023-05-18","s":"10年","v":2.88},{"d":"2023-05-21","s":"10年","v":2.867},{"d":"2023-05-25","s":"10年","v":2.863},{"d":"2023-05-27","s":"10年","v":2.85},{"d":"2023-05-29","s":"10年","v":2.846},{"d":"2023-06-01","s":"10年","v":2.843},{"d":"2023-06-04","s":"10年","v":2.826},{"d":"2023-06-06","s":"10年","v":2.829},{"d":"2023-06-09","s":"10年","v":2.812},{"d":"2023-06-11","s":"10年","v":2.804},{"d":"2023-06-13","s":"10年","v":2.765},{"d":"2023-06-15","s":"10年","v":2.795},{"d":"2023-06-18","s":"10年","v":2.826},{"d":"2023-06-19","s":"10年","v":2.82},{"d":"2023-06-21","s":"10年","v":2.815}
    ]
  },
  "encoding": {
    "x": {
      "field": "d",
      "type": "temporal",
      "scale": {
        "type": "utc",
        "domain": [{"year": 2021, "month": 1, "date": 4, "utc": true}, {"year": 2023, "month": 6, "date": 21, "utc": true}]
      },
      "axis": {
        "title": null,
        "values": [
          {"year": 2021, "month": 1, "date": 4, "utc": true},
          {"year": 2021, "month": 3, "date": 31, "utc": true},
          {"year": 2021, "month": 6, "date": 30, "utc": true},
          {"year": 2021, "month": 9, "date": 30, "utc": true},
          {"year": 2021, "month": 12, "date": 31, "utc": true},
          {"year": 2022, "month": 3, "date": 31, "utc": true},
          {"year": 2022, "month": 6, "date": 30, "utc": true},
          {"year": 2022, "month": 9, "date": 30, "utc": true},
          {"year": 2022, "month": 12, "date": 31, "utc": true},
          {"year": 2023, "month": 3, "date": 31, "utc": true},
          {"year": 2023, "month": 6, "date": 21, "utc": true}
        ],
        "labelExpr": "utcFormat(datum.value, '%y-%m-%d')",
        "grid": false,
        "domainColor": "#1a1a1a",
        "domainWidth": 2,
        "tickColor": "#aaaaaa",
        "tickSize": 5,
        "labelColor": "#333333",
        "labelFontSize": 14,
        "labelPadding": 4,
        "labelFlush": false,
        "labelOverlap": false
      }
    }
  },
  "layer": [
    {
      "mark": {"type": "line", "strokeWidth": 2, "interpolate": "linear"},
      "encoding": {
        "y": {
          "field": "v",
          "type": "quantitative",
          "scale": {"domain": [1.587, 3.876], "nice": false, "zero": false},
          "axis": {
            "orient": "left",
            "title": "%",
            "titleAngle": 0,
            "titleX": -1,
            "titleY": -17,
            "titleAlign": "center",
            "titleBaseline": "middle",
            "titleFontSize": 13,
            "titleFontWeight": "normal",
            "titleColor": "#555555",
            "values": [1.8, 2.1, 2.4, 2.7, 3, 3.3, 3.6],
            "format": "~g",
            "grid": true,
            "gridColor": "#e3e3e3",
            "gridDash": [4, 4],
            "gridWidth": 1,
            "domainColor": "#a6a6a6",
            "domainWidth": 1.5,
            "tickColor": "#a6a6a6",
            "tickSize": 5,
            "labelColor": "#404040",
            "labelFontSize": 13,
            "labelPadding": 4
          }
        },
        "color": {
          "field": "s",
          "type": "nominal",
          "scale": {"domain": ["1年", "10年"], "range": ["#2b7fad", "#ff8f1f"]},
          "legend": {
            "title": null,
            "orient": "none",
            "direction": "horizontal",
            "legendX": 288,
            "legendY": 483,
            "symbolType": "stroke",
            "symbolStrokeWidth": 4,
            "symbolSize": 400,
            "labelFontSize": 13,
            "labelColor": "#333333",
            "labelOffset": 4,
            "labelLimit": 400,
            "columnPadding": 10,
            "labelExpr": "'中债国开债到期收益率:' + datum.label"
          }
        }
      }
    },
    {
      "mark": {"type": "line", "strokeOpacity": 0},
      "encoding": {
        "y": {
          "field": "v",
          "type": "quantitative",
          "scale": {"domain": [1.587, 3.876], "nice": false, "zero": false},
          "axis": {
            "orient": "right",
            "title": "%",
            "titleAngle": 0,
            "titleX": 0,
            "titleY": -17,
            "titleAlign": "center",
            "titleBaseline": "middle",
            "titleFontSize": 13,
            "titleFontWeight": "normal",
            "titleColor": "#555555",
            "values": [1.8, 2.1, 2.4, 2.7, 3, 3.3, 3.6],
            "format": "~g",
            "grid": false,
            "domainColor": "#a6a6a6",
            "domainWidth": 1.5,
            "tickColor": "#a6a6a6",
            "tickSize": 5,
            "labelColor": "#404040",
            "labelFontSize": 13,
            "labelPadding": 4
          }
        },
        "detail": {"field": "s", "type": "nominal"}
      }
    }
  ],
  "resolve": {"scale": {"y": "independent"}}
}
